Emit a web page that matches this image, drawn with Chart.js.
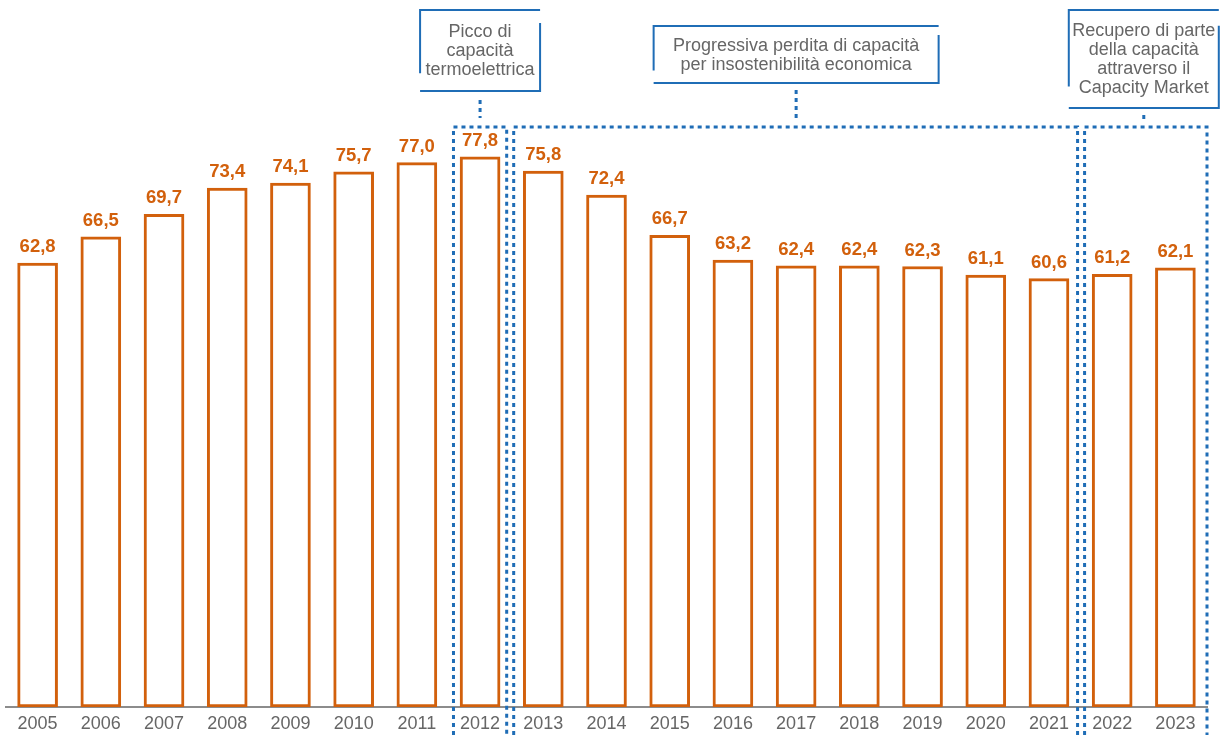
<!DOCTYPE html>
<html>
<head>
<meta charset="utf-8">
<script src="https://cdn.jsdelivr.net/npm/chart.js@4"></script>
<style>
  html, body { margin: 0; padding: 0; background: #fff; }
</style>
</head>
<body>
<canvas id="myChart" width="1222" height="735"></canvas>
<script>
// capacità termoelettrica, GW
var years = ["2005", "2006", "2007", "2008", "2009", "2010", "2011", "2012", "2013", "2014",
             "2015", "2016", "2017", "2018", "2019", "2020", "2021", "2022", "2023"];
var capacity = [62.8, 66.5, 69.7, 73.4, 74.1, 75.7, 77.0, 77.8, 75.8, 72.4,
                66.7, 63.2, 62.4, 62.4, 62.3, 61.1, 60.6, 61.2, 62.1];

// fasi: primo e ultimo anno (indice) di ogni riquadro tratteggiato
var phaseFrom = [7, 8, 17];
var phaseTo = [7, 16, 18];
var phaseText = [
    ["Picco di", "capacità", "termoelettrica"],
    ["Progressiva perdita di capacità", "per insostenibilità economica"],
    ["Recupero di parte", "della capacità", "attraverso il", "Capacity Market"]
];

var orange = "#d2600c";
var blue = "#1f6db6";
var grey = "#666666";
var font = '"Liberation Sans", Arial, sans-serif';

function fmt(v) {
    return v.toFixed(1).replace(".", ",");
}

// valore sopra ogni barra
var valueLabels = {
    id: "valueLabels",
    afterDatasetsDraw(chart) {
        var ctx = chart.ctx;
        var meta = chart.getDatasetMeta(0);
        ctx.save();
        ctx.font = "bold 18.5px " + font;
        ctx.fillStyle = orange;
        ctx.textAlign = "center";
        ctx.textBaseline = "alphabetic";
        meta.data.forEach(function (bar, i) {
            ctx.fillText(fmt(capacity[i]), bar.x, bar.y - 11);
        });
        ctx.restore();
    }
};

// riquadri tratteggiati e box di testo
var phases = {
    id: "phases",
    afterDraw(chart) {
        var x = chart.scales.x;
        var ctx = chart.ctx;
        var step = x.getPixelForValue(1) - x.getPixelForValue(0);
        var edgeOff = [[5, -5], [2, -3], [4, 0]];
        var boxW = [120, 285, 150];
        var boxY = [[10, 91], [26, 83], [10, 108]];
        var linkY = [[100, 118], [90, 120], [115, 122]];
        var topY = 127;
        var bottomY = chart.height;

        phaseFrom.forEach(function (from, k) {
            var to = phaseTo[k];
            var l = x.getPixelForValue(from) - step / 2 + edgeOff[k][0];
            var r = x.getPixelForValue(to) + step / 2 + edgeOff[k][1];
            var cx = (x.getPixelForValue(from) + x.getPixelForValue(to)) / 2;
            if (k === 1) cx = x.getPixelForValue(12);

            // riquadro tratteggiato
            ctx.save();
            ctx.strokeStyle = blue;
            ctx.lineWidth = 3;
            ctx.setLineDash([4, 4]);
            ctx.beginPath();
            ctx.moveTo(l, bottomY);
            ctx.lineTo(l, topY);
            ctx.lineTo(r, topY);
            ctx.lineTo(r, bottomY);
            ctx.stroke();
            // collegamento al box
            ctx.beginPath();
            ctx.moveTo(cx, linkY[k][0]);
            ctx.lineTo(cx, linkY[k][1]);
            ctx.stroke();
            ctx.restore();

            // box di testo con bordi interrotti
            var bl = cx - boxW[k] / 2;
            var br = cx + boxW[k] / 2;
            var bt = boxY[k][0];
            var bb = boxY[k][1];
            var h = bb - bt;
            ctx.save();
            ctx.strokeStyle = blue;
            ctx.lineWidth = 2;
            ctx.beginPath();
            ctx.moveTo(bl, bt + h * 0.78);
            ctx.lineTo(bl, bt);
            ctx.lineTo(br, bt);
            ctx.moveTo(br, bt + h * 0.16);
            ctx.lineTo(br, bb);
            ctx.lineTo(bl, bb);
            ctx.stroke();

            var lines = phaseText[k];
            var lh = 19;
            var ty = (bt + bb) / 2 - (lines.length - 1) * lh / 2 + 1;
            ctx.font = "18px " + font;
            ctx.fillStyle = grey;
            ctx.textAlign = "center";
            ctx.textBaseline = "middle";
            lines.forEach(function (s, j) {
                ctx.fillText(s, cx, ty + j * lh);
            });
            ctx.restore();
        });
    }
};

new Chart("myChart", {
    type: "bar",
    data: {
        labels: years,
        datasets: [{
            data: capacity,
            backgroundColor: "#ffffff",
            borderColor: orange,
            borderWidth: 3,
            borderSkipped: false,
            barThickness: 40
        }]
    },
    options: {
        responsive: false,
        animation: false,
        layout: { padding: { left: 6, right: 15, top: 0, bottom: 0 } },
        plugins: {
            legend: { display: false },
            tooltip: { enabled: false }
        },
        scales: {
            x: {
                grid: { display: false },
                border: { display: true, color: "#8c8c8c", width: 2 },
                ticks: {
                    color: grey,
                    font: { family: font, size: 18 },
                    padding: -2,
                    maxRotation: 0
                },
                afterFit: function (scale) { scale.height = 28; }
            },
            y: {
                display: false,
                min: 0,
                max: 100
            }
        }
    },
    plugins: [valueLabels, phases]
});
</script>
</body>
</html>
